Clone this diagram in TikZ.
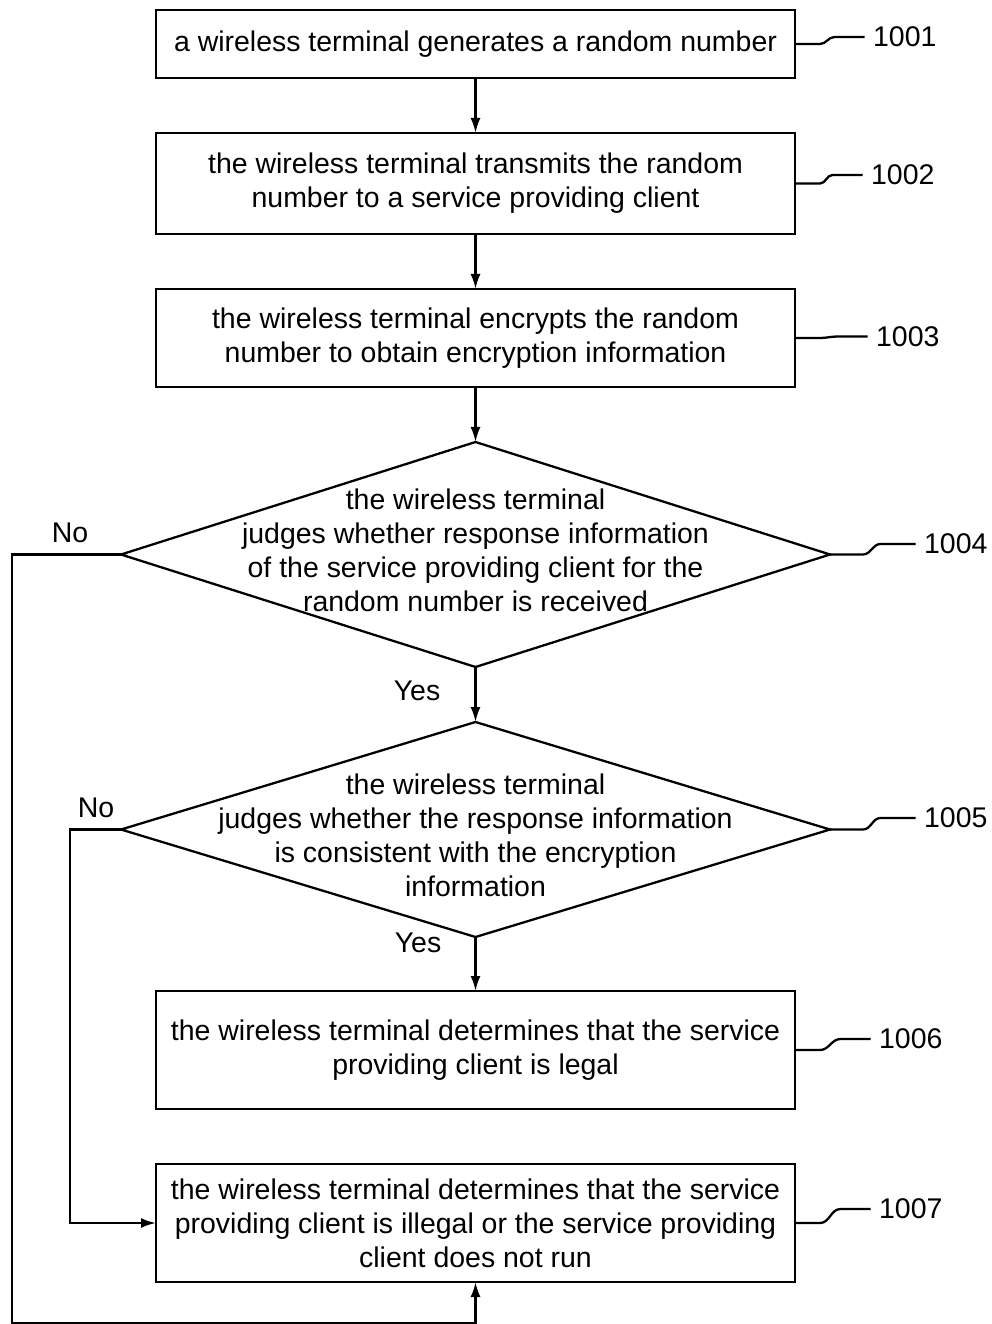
\documentclass[tikz,border=0pt]{standalone}
\usepackage{fontspec}
\setmainfont{Liberation Sans}
\usetikzlibrary{positioning,shapes.geometric,arrows.meta}

\begin{document}
\begin{tikzpicture}[font=\fontsize{16.2}{19.3}\selectfont, line width=1.3pt,
  box/.style={rectangle,draw,minimum width=127.8mm,align=center,inner sep=0pt,outer sep=0pt},
  decision/.style={diamond,draw,minimum width=141.8mm,inner sep=0pt,outer sep=0pt},
  num/.style={inner sep=1.5mm},
  arr/.style={-{Latex[length=3mm,width=2mm]}},]

\useasboundingbox (0,0) rectangle (198.2mm,-264.8mm);

\node[box,minimum height=13.6mm,anchor=north] (s1) at (95.1mm,-2mm) {a wireless terminal generates a random number};
\node[box,minimum height=20.2mm] (s2) [below=11mm of s1] {the wireless terminal transmits the random\\number to a service providing client};
\node[box,minimum height=19.6mm] (s3) [below=11mm of s2] {the wireless terminal encrypts the random\\number to obtain encryption information};
%
\node[decision,minimum height=45mm] (d1) [below=11mm of s3] {};
\node[align=center] (d1txt) at ([yshift=0.9mm]d1.center) {the wireless terminal\\judges whether response information\\of the service providing client for the\\random number is received};
\node[decision,minimum height=43mm] (d2) [below=11mm of d1] {};
\node[align=center] (d2txt) at ([yshift=-1.1mm]d2.center) {the wireless terminal\\judges whether the response information\\is consistent with the encryption\\information};
%
\node[box,minimum height=23.6mm] (s6) [below=10.8mm of d2] {the wireless terminal determines that the service\\providing client is legal};
\node[box,minimum height=23.6mm] (s7) [below=11mm of s6] {the wireless terminal determines that the service\\providing client is illegal or the service providing\\client does not run};

\node[num] (n1001) [right=13.9mm of s1, yshift=1.4mm]  {1001};
\node[num] (n1002) [right=13.5mm of s2, yshift=1.7mm]  {1002};
\node[num] (n1003) [right=14.5mm of s3, yshift=0.3mm]  {1003};
\node[num] (n1004) [right=17.1mm of d1, yshift=2.1mm]  {1004};
\node[num] (n1005) [right=17.1mm of d2, yshift=2.3mm]  {1005};
\node[num] (n1006) [right=15.1mm of s6, yshift=2.2mm]  {1006};
\node[num] (n1007) [right=15.1mm of s7, yshift=2.8mm]  {1007};

\node (no1)  at ([xshift=-10.2mm,yshift=4.4mm]d1.west)  {No};
\node (no2)  at ([xshift=-5mm,yshift=4.4mm]d2.west)     {No};
\node (yes1) at ([xshift=-11.7mm,yshift=-4.8mm]d1.south) {Yes};
\node (yes2) at ([xshift=-11.5mm,yshift=-1.2mm]d2.south) {Yes};

\draw[arr] (s1) -- (s2);
\draw[arr] (s2) -- (s3);
\draw[arr] (s3) -- (d1);
\draw[arr] (d1) -- (d2);
\draw[arr] (d2) -- (s6);
\draw[arr] (d2.west) -- ++(-10.2mm,0) |- (s7.west);
\draw[arr] (d1.west) -- ++(-21.8mm,0) |- ([yshift=-8.2mm]s7.south) -- (s7.south);

%\draw (s1.east) -- (n1001);
\draw (s1.east) -- ++(5mm,0) to[out=0,in=180] ([xshift=-6mm]n1001.west) -- (n1001.west);
\draw (s2.east) -- ++(5mm,0) to[out=0,in=180] ([xshift=-6mm]n1002.west) -- (n1002.west);
\draw (s3.east) -- ++(5mm,0) to[out=0,in=180] ([xshift=-6mm]n1003.west) -- (n1003.west);
\draw (d1.east) -- ++(6.6mm,0) to[out=0,in=180] ([xshift=-7mm]n1004.west) -- (n1004.west);
\draw (d2.east) -- ++(6.6mm,0) to[out=0,in=180] ([xshift=-7mm]n1005.west) -- (n1005.west);
\draw (s6.east) -- ++(5mm,0) to[out=0,in=180] ([xshift=-6mm]n1006.west) -- (n1006.west);
\draw (s7.east) -- ++(5mm,0) to[out=0,in=180] ([xshift=-6mm]n1007.west) -- (n1007.west);

\end{tikzpicture}
\end{document}
